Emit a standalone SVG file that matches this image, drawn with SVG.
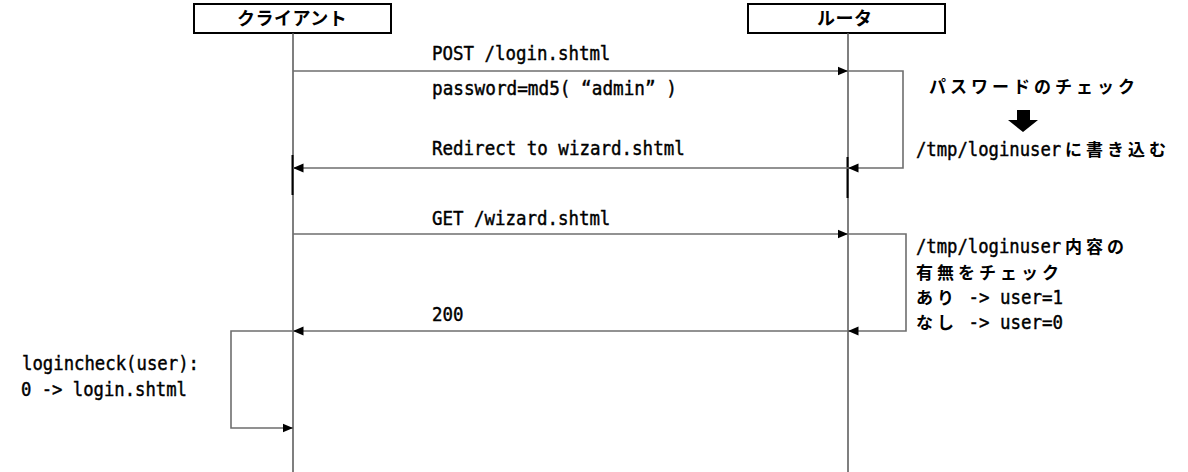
<svg xmlns="http://www.w3.org/2000/svg" width="1188" height="472" viewBox="0 0 1188 472">
<defs>
<style>
.box{fill:#fff;stroke:#000;stroke-width:2}
.life{stroke:#555;stroke-width:1.5;fill:none}
.tick{stroke:#000;stroke-width:2;fill:none}
.msg{stroke:#6e6e6e;stroke-width:1.6;fill:none}
.t{font-family:"DejaVu Sans Mono","Noto Sans CJK JP",monospace;font-size:20px;fill:#000;stroke:#000;stroke-width:0.45}
.j{font-family:"Noto Sans CJK JP",sans-serif;font-size:17px;letter-spacing:4px;font-weight:bold;fill:#000}
.h{font-family:"Noto Sans CJK JP",sans-serif;font-size:18px;font-weight:bold;letter-spacing:0.5px;fill:#000}
</style>
<marker id="ah" markerWidth="11" markerHeight="10" refX="10.5" refY="5" orient="auto" markerUnits="userSpaceOnUse">
<path d="M0,0.5 L10.5,5 L0,9.5 Z" fill="#000"/>
</marker>
</defs>
<g id="client">
<rect class="box" x="194" y="4" width="197" height="29"/>
<text class="h" x="237" y="25">クライアント</text>
<line class="life" x1="293" y1="33" x2="293" y2="472"/>
<line class="tick" x1="292.5" y1="155" x2="292.5" y2="195"/>
</g>
<g id="router">
<rect class="box" x="748" y="4" width="197" height="29"/>
<text class="h" x="817" y="25" letter-spacing="3">ルータ</text>
<line class="life" x1="848" y1="33" x2="848" y2="472"/>
<line class="tick" x1="847.5" y1="157" x2="847.5" y2="198"/>
</g>
<g id="connectors">
<line class="msg" x1="293" y1="71" x2="848" y2="71" marker-end="url(#ah)"/>
<polyline class="msg" points="848,71 903,71 903,168 848,168" marker-end="url(#ah)"/>
<line class="msg" x1="848" y1="168" x2="293" y2="168" marker-end="url(#ah)"/>
<line class="msg" x1="293" y1="234" x2="848" y2="234" marker-end="url(#ah)"/>
<polyline class="msg" points="848,234 906,234 906,331 848,331" marker-end="url(#ah)"/>
<line class="msg" x1="848" y1="331" x2="293" y2="331" marker-end="url(#ah)"/>
<polyline class="msg" points="293,331 231,331 231,428 293,428" marker-end="url(#ah)"/>
</g>
<g id="labels">
<text class="t" transform="translate(432,60) scale(0.872,1)">POST /login.shtml</text>
<text class="t" transform="translate(432,95) scale(0.885,1)">password=md5( “admin” )</text>
<text class="t" transform="translate(432,155) scale(0.875,1)">Redirect to wizard.shtml</text>
<text class="t" transform="translate(432,225) scale(0.872,1)">GET /wizard.shtml</text>
<text class="t" transform="translate(432,321) scale(0.872,1)">200</text>
<text class="t" transform="translate(22,370) scale(0.865,1)">logincheck(user):</text>
<text class="t" transform="translate(21,396) scale(0.862,1)">0 -&gt; login.shtml</text>
</g>
<g id="note1">
<text class="j" x="929" y="93">パスワードのチェック</text>
<polygon points="1017,110 1030,110 1030,120 1038,120 1023,132 1008,120 1017,120" fill="#000"/>
<text class="t" transform="translate(916,156) scale(0.862,1)">/tmp/loginuser</text>
<text class="j" x="1065" y="156">に書き込む</text>
</g>
<g id="note2">
<text class="t" transform="translate(916,253) scale(0.862,1)">/tmp/loginuser</text>
<text class="j" x="1065" y="253">内容の</text>
<text class="j" x="916" y="279">有無をチェック</text>
<text class="j" x="916" y="304">あり</text>
<text class="t" transform="translate(968.5,304) scale(0.872,1)">-&gt; user=1</text>
<text class="j" x="916" y="329">なし</text>
<text class="t" transform="translate(968.5,329) scale(0.872,1)">-&gt; user=0</text>
</g>
</svg>
